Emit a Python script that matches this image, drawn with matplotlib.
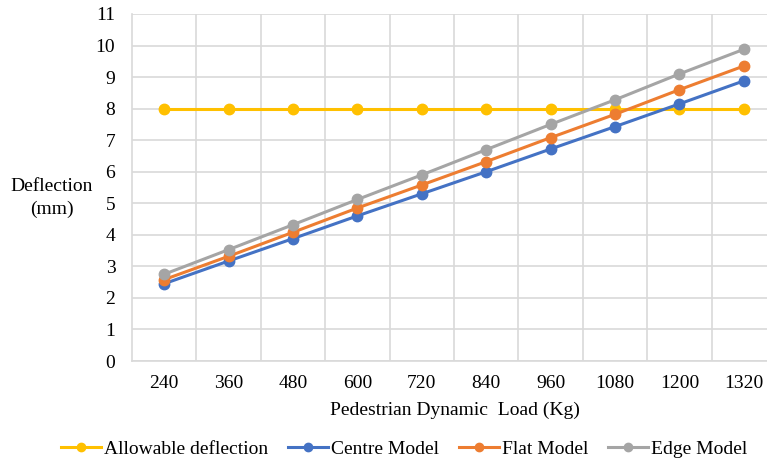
import matplotlib
matplotlib.use("Agg")
import matplotlib.pyplot as plt
from matplotlib.lines import Line2D

categories = ["240", "360", "480", "600", "720", "840", "960", "1080", "1200", "1320"]
allowable = [8, 8, 8, 8, 8, 8, 8, 8, 8, 8]
centre = [2.45, 3.17, 3.88, 4.60, 5.30, 6.00, 6.72, 7.43, 8.15, 8.88]
flat = [2.58, 3.32, 4.08, 4.85, 5.58, 6.32, 7.08, 7.82, 8.60, 9.35]
edge = [2.75, 3.53, 4.32, 5.12, 5.90, 6.70, 7.50, 8.28, 9.10, 9.88]

series = [
    ("Allowable deflection", allowable, "#FFC000"),
    ("Centre Model", centre, "#4472C4"),
    ("Flat Model", flat, "#ED7D31"),
    ("Edge Model", edge, "#A5A5A5"),
]

plt.rcParams['font.family'] = ['Liberation Serif', 'DejaVu Serif']
FS = 14

fig = plt.figure(figsize=(7.67, 4.62), dpi=100)
W, H = 767, 462
ax = fig.add_axes([132 / W, (H - 361) / H, (776 - 132) / W, (361 - 14) / H])

x = list(range(len(categories)))
handles = []
for name, vals, col in series:
    ax.plot(x, vals, color=col, lw=2.2, marker='o', ms=7.5, zorder=3)
    handles.append(Line2D([0], [0], color=col, lw=2.2, marker='o', ms=6))

ax.set_xlim(-0.5, len(categories) - 0.5)
ax.set_ylim(0, 11)
ax.set_yticks(range(0, 12))
ax.set_xticks(x)
ax.set_xticklabels(categories)
ax.set_xticks([i + 0.5 for i in x[:-1]], minor=True)
ax.grid(True, which='major', axis='y', color='#D9D9D9', lw=1.2)
ax.grid(True, which='minor', axis='x', color='#D9D9D9', lw=1.2)
ax.set_axisbelow(True)
ax.tick_params(which='both', length=0, labelsize=FS, colors='black')
ax.tick_params(axis='x', pad=10)
ax.tick_params(axis='y', pad=12)
for s in ['top', 'right']:
    ax.spines[s].set_visible(False)
for s in ['left', 'bottom']:
    ax.spines[s].set_color('#D9D9D9')
    ax.spines[s].set_linewidth(1.2)

fig.text(52 / W, 1 - 198 / H, "Deflection\n(mm)", ha='center', va='center', fontsize=FS, linespacing=1.45)
fig.text(455 / W, 1 - 410 / H, "Pedestrian Dynamic  Load (Kg)", ha='center', va='center', fontsize=FS)

fig.legend(handles, [s[0] for s in series], loc='center', bbox_to_anchor=(404 / W, 1 - 449 / H),
           ncol=4, frameon=False, fontsize=FS, handlelength=2.05, handletextpad=0.15,
           columnspacing=1.03, borderpad=0, borderaxespad=0)

fig.savefig("out.png", dpi=100)
